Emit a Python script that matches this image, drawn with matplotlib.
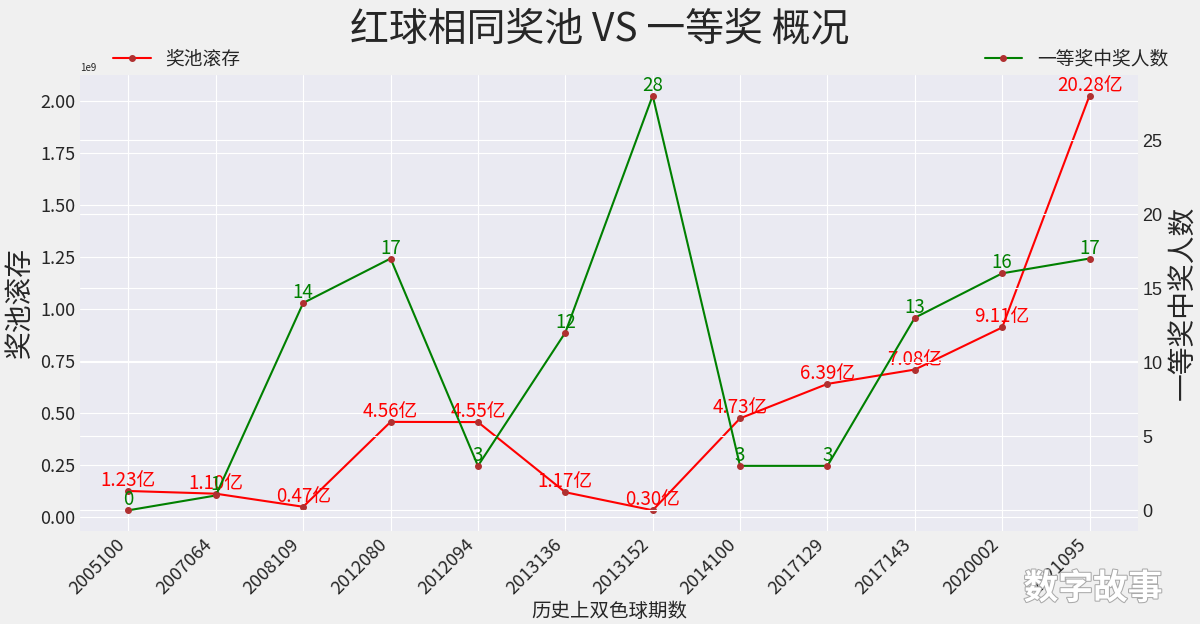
import numpy as np
import matplotlib
matplotlib.use("Agg")
from matplotlib import pyplot as plt
from matplotlib import patheffects

plt.style.use("seaborn-v0_8-darkgrid")
plt.rcParams['font.family'] = ['Noto Sans CJK SC', 'DejaVu Sans']
plt.rcParams['axes.unicode_minus'] = False

# data
periods = ["2005100", "2007064", "2008109", "2012080", "2012094", "2013136",
           "2013152", "2014100", "2017129", "2017143", "2020002", "2021095"]
pool_yi = [1.23, 1.10, 0.47, 4.56, 4.55, 1.17, 0.30, 4.73, 6.39, 7.08, 9.11, 20.28]  # 亿
winners = [0, 1, 14, 17, 3, 12, 28, 3, 3, 13, 16, 17]

pool = np.array(pool_yi) * 1e8
x = np.arange(len(periods))

fig = plt.figure(figsize=(12, 6.24), dpi=100, facecolor="#f0f0f0")
ax = fig.add_subplot(111)
fig.subplots_adjust(left=0.067, right=0.948, top=0.88, bottom=0.149)

l1, = ax.plot(x, pool, color="red", lw=1.5, marker="o", ms=4,
              mfc="#b03030", mec="#b03030", label="奖池滚存")
for xi, v, t in zip(x, pool, pool_yi):
    ax.text(xi, v, "%.2f亿" % t, color="red", fontsize=13.5, ha="center", va="bottom")

ax.set_xticks(x)
ax.set_xticklabels(periods, rotation=45, ha="right", fontsize=13)
ax.tick_params(axis="y", labelsize=13)
ax.set_ylabel("奖池滚存", fontsize=20)
ax.set_xlabel("历史上双色球期数", fontsize=14, labelpad=2)
ax.yaxis.get_offset_text().set_fontsize(7)

ax2 = ax.twinx()
l2, = ax2.plot(x, winners, color="green", lw=1.5, marker="o", ms=4,
               mfc="#b03030", mec="#b03030", label="一等奖中奖人数")
for xi, v in zip(x, winners):
    ax2.text(xi, v, str(v), color="green", fontsize=13.5, ha="center", va="bottom")
ax2.set_ylabel("一等奖中奖人数", fontsize=20)
ax2.tick_params(axis="y", labelsize=13)
for lab in ax2.get_yticklabels():
    lab.set_family("Liberation Sans")

ax.legend(handles=[l1], loc="lower left", bbox_to_anchor=(0.015, 0.975), frameon=False, fontsize=13.5)
ax2.legend(handles=[l2], loc="lower right", bbox_to_anchor=(1.045, 0.975), frameon=False, fontsize=13.5)

fig.suptitle("红球相同奖池 VS 一等奖 概况", fontsize=28, y=0.985, color="#262626")

fig.text(0.853, 0.04, "数字故事", fontsize=25, color="white", fontweight="bold",
         path_effects=[patheffects.withStroke(linewidth=1.5, foreground="#aaaaaa")])

fig.savefig("out.png", dpi=100, facecolor=fig.get_facecolor())
